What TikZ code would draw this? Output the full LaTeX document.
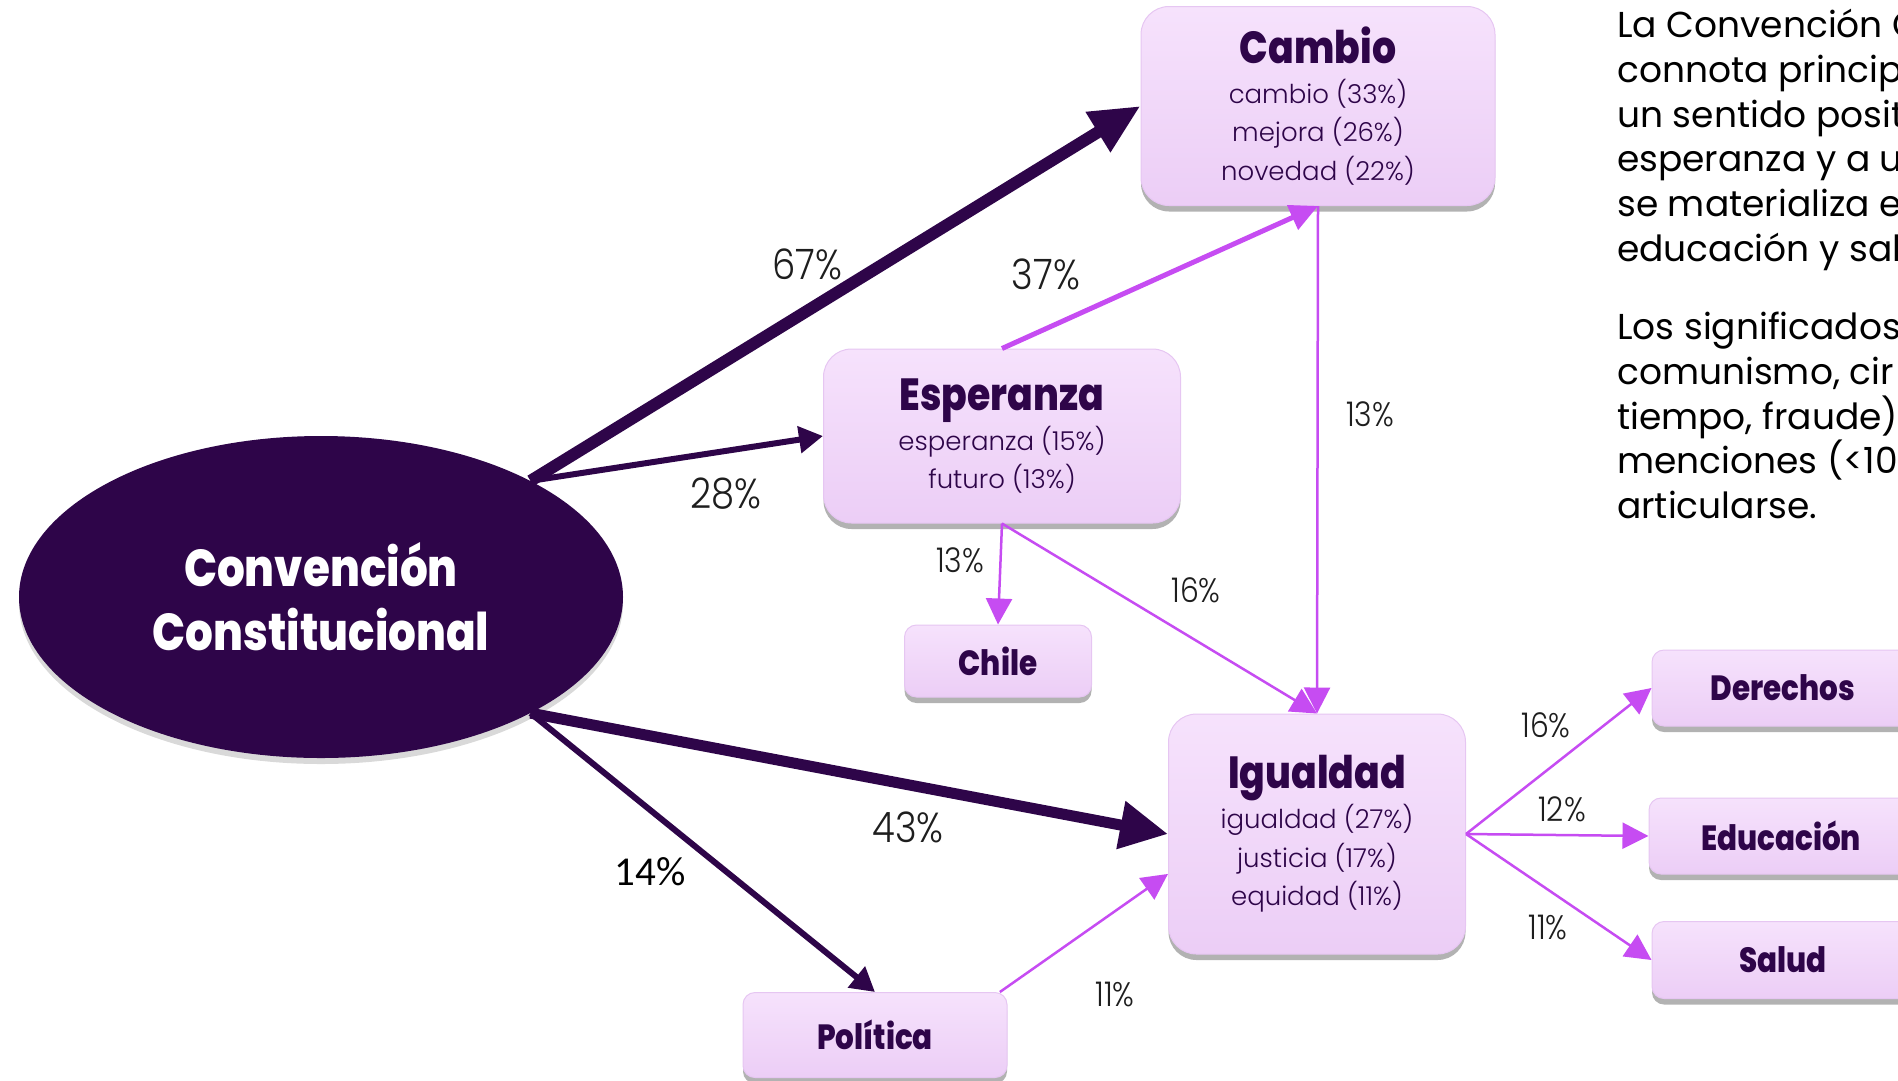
\documentclass[tikz,border=0pt]{standalone}
\usepackage{fontspec}
\setmainfont{Poppins}
\newfontfamily\titlefont{Poppins ExtraBold}[FakeStretch=0.84]
\newfontfamily\lightfont{Poppins Light}
\newfontfamily\pctfont{Poppins Light}[FakeStretch=0.88]
\newfontfamily\calfont{Carlito}
\usetikzlibrary{arrows.meta,shapes.geometric,shadows}

\definecolor{ccpurple}{HTML}{2E0549}
\definecolor{lila}{HTML}{C64CF2}
\definecolor{boxfill}{HTML}{EACAF5}
\definecolor{boxtop}{HTML}{F6E2FC}
\definecolor{boxedge}{HTML}{E6C6F2}
\definecolor{pctgray}{HTML}{1E1E1E}

\begin{document}
\begin{tikzpicture}[
	x = 1pt, y = -1pt, % pixel grid of the slide
	big/.style={rectangle, rounded corners=28pt, draw=boxedge, line width=1pt,
		top color=boxtop, middle color=boxfill, bottom color=boxfill!85!boxtop,
		drop shadow={shadow xshift=0pt, shadow yshift=-6pt, opacity=.3, fill=black},
		text=ccpurple, align=center, inner sep=0pt,
		font=\lightfont\fontsize{26}{38.5}\selectfont},
	small/.style={big, rounded corners=12pt, font=\titlefont\fontsize{35}{40}\selectfont},
	heavy/.style={draw=ccpurple, line width=12pt, -{Triangle[length=50pt, width=44pt]}},
	mid/.style={draw=ccpurple, line width=6pt, -{Triangle[length=24pt, width=26pt]}},
	lilamid/.style={draw=lila, line width=5pt, -{Triangle[length=28pt, width=26pt]}},
	lilathin/.style={draw=lila, line width=2.5pt, -{Triangle[length=26pt, width=26pt]}},
	pct/.style={inner sep=0pt, text=pctgray, font=\pctfont\fontsize{42}{42}\selectfont},
	pctsmall/.style={pct, font=\pctfont\fontsize{34}{34}\selectfont},
	]
	\useasboundingbox (0,0) rectangle (1898,1080);

	% Nodes
	\node[ellipse, minimum width=604pt, minimum height=322pt, inner sep=0pt,
		fill=ccpurple, drop shadow={shadow xshift=0pt, shadow yshift=-6pt, opacity=.3},
		text=white, align=center, font=\titlefont\fontsize{52}{64}\selectfont]
		(cc) at (321,597) {Convención\\Constitucional};

	\node[big, minimum width=354pt, minimum height=199pt] (cam) at (1318,106)
		{{\titlefont\fontsize{45}{50}\selectfont Cambio}\\[1.5pt]cambio (33\%)\\mejora (26\%)\\novedad (22\%)};
	\node[big, minimum width=357pt, minimum height=174pt] (esp) at (1002,436)
		{{\titlefont\fontsize{45}{50}\selectfont Esperanza}\\[1.5pt]esperanza (15\%)\\futuro (13\%)};
	\node[big, minimum width=297pt, minimum height=240pt] (igu) at (1317,834)
		{{\titlefont\fontsize{45}{50}\selectfont Igualdad}\\[1.5pt]igualdad (27\%)\\justicia (17\%)\\equidad (11\%)};

	\node[small, minimum width=187pt, minimum height=72pt] (chi) at (998,661) {Chile};
	\node[small, minimum width=264pt, minimum height=85pt] (pol) at (875,1035) {Política};
	\node[small, minimum width=262pt, minimum height=76pt] (der) at (1783,688) {Derechos};
	\node[small, minimum width=264pt, minimum height=76pt] (edu) at (1781,836) {Educación};
	\node[small, minimum width=262pt, minimum height=77pt] (sal) at (1783,960) {Salud};

	% Paths connecting nodes
	\draw[heavy] (cc.29) -- (cam.west);
	\draw[mid] (cc.29) -- (esp.west);
	\draw[heavy, line width=11pt, -{Triangle[length=48pt, width=46pt]}] (cc.-29) -- (igu.west);
	\draw[mid] (cc.-29) -- (pol.north);

	\draw[lilamid] (esp.north) -- (cam.south);
	\draw[lilathin] (cam.south) -- (igu.north);
	\draw[lilathin] (esp.south) -- (chi.north);
	\draw[lilathin] (esp.south) -- (igu.north);
	\draw[lilathin] (pol.19) -- (igu.195);
	\draw[lilathin] (igu.east) -- (der.west);
	\draw[lilathin] (igu.east) -- (edu.west);
	\draw[lilathin] (igu.east) -- (sal.west);

	% Percentages
	\node[pct] (p67) at (807,264) {67\%};
	\node[pct] (p28) at (726,494) {28\%};
	\node[pct] (p43) at (908,827) {43\%};
	\node[pct, font=\calfont\fontsize{41}{41}\selectfont, text=black] (p14) at (650,872) {14\%};
	\node[pct] (p37) at (1046,274) {37\%};
	\node[pctsmall] (p13a) at (1370,414) {13\%};
	\node[pctsmall] (p13b) at (960,560) {13\%};
	\node[pctsmall] (p16a) at (1196,590) {16\%};
	\node[pctsmall] (p11a) at (1115,994) {11\%};
	\node[pctsmall] (p16b) at (1546,725) {16\%};
	\node[pctsmall] (p12) at (1562,809) {12\%};
	\node[pctsmall] (p11b) at (1548,927) {11\%};

	% Side text
	\node[anchor=north west, inner sep=0pt, align=left, text=black,
		font=\fontsize{36}{44.7}\selectfont] (nota) at (1617,9)
		{La Convención Constitucional\\connota principalmente\\un sentido positivo\\esperanza y a un\\se materializa en\\educación y salud.\\[34pt]
		 Los significados\\comunismo, cir\\tiempo, fraude)\\menciones (<10\%)\\articularse.};
\end{tikzpicture}
\end{document}
